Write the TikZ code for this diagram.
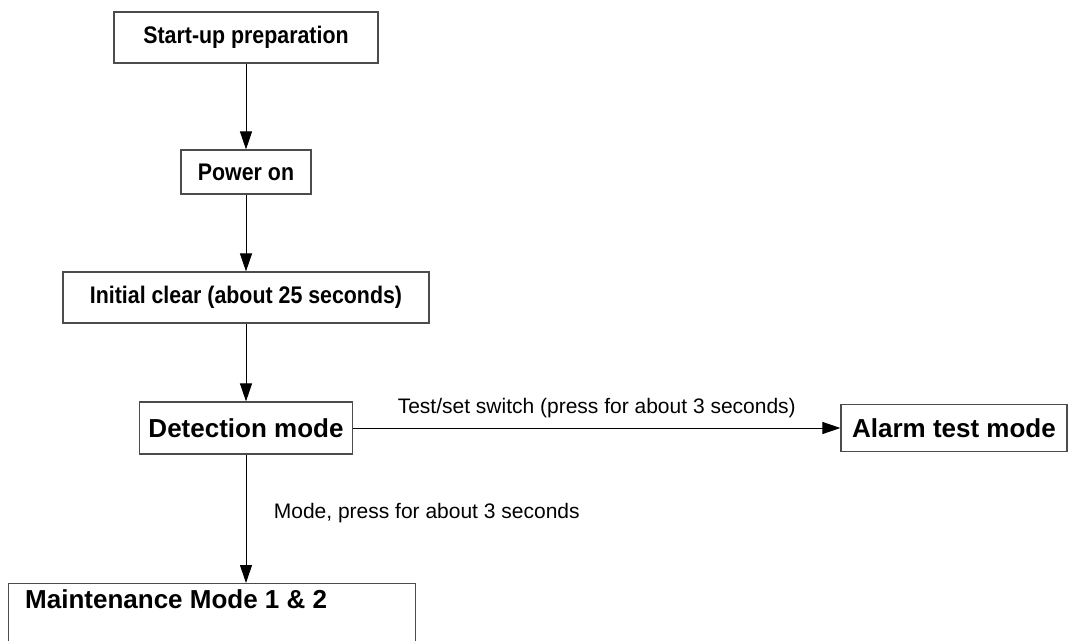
\documentclass[tikz,border=0pt]{standalone}
\usepackage{fontspec}
\setmainfont{Liberation Sans}
\newfontfamily\narrowfont[FakeStretch=0.89]{Liberation Sans}
\usetikzlibrary{arrows.meta}
\tikzset{
  stepbox/.style={draw=black!70, line width=1.2pt, inner sep=0pt},
  narrowtext/.style={font=\narrowfont\bfseries\fontsize{24}{28}\selectfont},
  widetext/.style={font=\bfseries\fontsize{26}{30}\selectfont},
  flow/.style={-{Triangle[length=18pt,width=12pt]}, line width=1pt},
  note/.style={font=\fontsize{21}{25}\selectfont}
}

\begin{document}
\begin{tikzpicture}[x=1pt,y=-1pt]
    \useasboundingbox (0,0) rectangle (1068,640);
    \clip (0,0) rectangle (1068,640);

    \node [stepbox, narrowtext, minimum width=264pt, minimum height=51pt] (prep) at (246,37.5) {Start-up preparation};
    \node [stepbox, narrowtext, minimum width=130pt, minimum height=44pt] (power) at (246,172) {Power on};
    \node [stepbox, narrowtext, minimum width=366pt, minimum height=51pt] (init) at (246,297.5) {Initial clear (about 25 seconds)};
    \node [stepbox, widetext, minimum width=213pt, minimum height=52pt] (detect) at (246,428) {Detection mode};
    \node [stepbox, widetext, minimum width=226pt, minimum height=47pt] (alarm) at (954,428) {Alarm test mode};
    \node [stepbox, anchor=north west, minimum width=407pt, minimum height=90pt] (maint) at (8,583) {};
    \node [widetext, anchor=base west, inner sep=0pt] (mainttxt) at (25,608) {Maintenance Mode 1 \& 2};

    \draw [flow] (prep) -- (power);
    \draw [flow] (power) -- (init);
    \draw [flow] (init) -- (detect);
    \draw [flow] (detect) -- node [note, above, yshift=6pt] (testnote) {Test/set switch (press for about 3 seconds)} (alarm);
    \draw [flow] (detect) -- node [note, right, xshift=24pt, yshift=6pt] (modenote) {Mode, press for about 3 seconds} (detect |- maint.north);
\end{tikzpicture}
\end{document}
